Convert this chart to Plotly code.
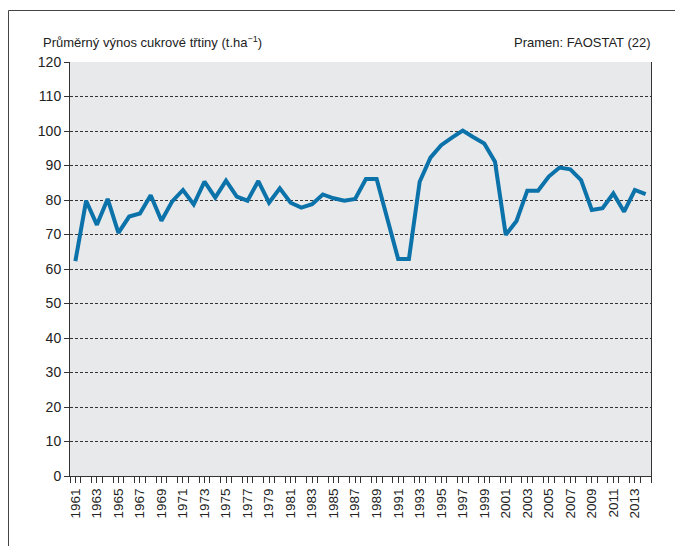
import plotly.graph_objects as go

years = list(range(1961, 2015))
yields = [62.3, 79.8, 72.8, 80.3, 70.5, 75.2, 76.1, 81.4, 74.0, 79.6,
          82.9, 78.7, 85.3, 80.7, 85.6, 81.0, 79.8, 85.5, 79.2, 83.4,
          79.2, 77.8, 78.8, 81.6, 80.5, 79.8, 80.3, 86.1, 86.1, 74.5,
          62.9, 62.9, 85.3, 92.3, 95.9, 98.1, 100.1, 98.2, 96.4, 91.1,
          69.9, 73.9, 82.7, 82.7, 86.8, 89.4, 88.9, 85.8, 77.1, 77.6,
          81.9, 76.6, 82.9, 81.7]
label_years = list(range(1961, 2014, 2))
y_ticks = list(range(0, 121, 10))

title_text = "Průměrný výnos cukrové třtiny (t.ha<sup>−1</sup>)"
source_text = "Pramen: FAOSTAT (22)"

FONT = "Liberation Sans Narrow, Liberation Sans, sans-serif"

# page is offset by 8px body margin; work in page pixels and convert
OFF = 8
W, H = 683 - OFF, 546 - OFF
L, T = 70 - OFF, 62 - OFF
PR, PB = 651 - OFF, 476 - OFF
R, B = W - PR, H - PB
pw, ph = PR - L, PB - T


def px(xp):
    return (xp - OFF - L) / pw


def py(yp):
    return (PB - (yp - OFF)) / ph


fig = go.Figure()
fig.add_trace(go.Scatter(x=years, y=yields, mode="lines",
                         line=dict(color="#0b72aa", width=4),
                         hoverinfo="skip", showlegend=False))

fig.update_layout(
    width=W, height=H,
    margin=dict(l=L, r=R, t=T, b=B, autoexpand=False),
    paper_bgcolor="white",
    plot_bgcolor="#e8e9eb",
    font=dict(family=FONT, size=14, color="#222"),
    xaxis=dict(
        type="linear", range=[1960.5, 2014.5],
        tickmode="array", tickvals=label_years,
        ticktext=[str(y) for y in label_years],
        tickangle=-90, ticks="outside", ticklen=6, tickcolor="#333",
        showgrid=False, zeroline=False,
        showline=True, linecolor="#333", linewidth=1,
        minor=dict(tickmode="array", tickvals=[y - 0.5 for y in range(1961, 2016)],
                   ticks="outside", ticklen=6, tickcolor="#333", showgrid=False),
        tickfont=dict(family=FONT, size=13.5, color="#222"),
    ),
    yaxis=dict(
        range=[0, 120], tickmode="array", tickvals=y_ticks,
        ticks="outside", ticklen=5, tickcolor="#333",
        showgrid=True, gridcolor="#333", gridwidth=1, griddash="3px,2px",
        zeroline=False, showline=True, linecolor="#333", linewidth=1, mirror=True,
        tickfont=dict(family=FONT, size=14, color="#222"),
    ),
    annotations=[
        dict(text=title_text, xref="paper", yref="paper",
             x=px(41), y=py(42), xanchor="left", yanchor="middle",
             showarrow=False, font=dict(family=FONT, size=13, color="#222")),
        dict(text=source_text, xref="paper", yref="paper",
             x=px(653), y=py(42), xanchor="right", yanchor="middle",
             showarrow=False, font=dict(family=FONT, size=13, color="#222")),
    ],
    shapes=[
        dict(type="line", xref="paper", yref="paper",
             x0=px(8.5), x1=px(683),
             y0=py(10.5), y1=py(10.5),
             line=dict(color="#444", width=1)),
        dict(type="line", xref="paper", yref="paper",
             x0=px(8.5), x1=px(8.5),
             y0=py(10.5), y1=py(546),
             line=dict(color="#444", width=1)),
    ],
)

fig.write_html("out.html")
